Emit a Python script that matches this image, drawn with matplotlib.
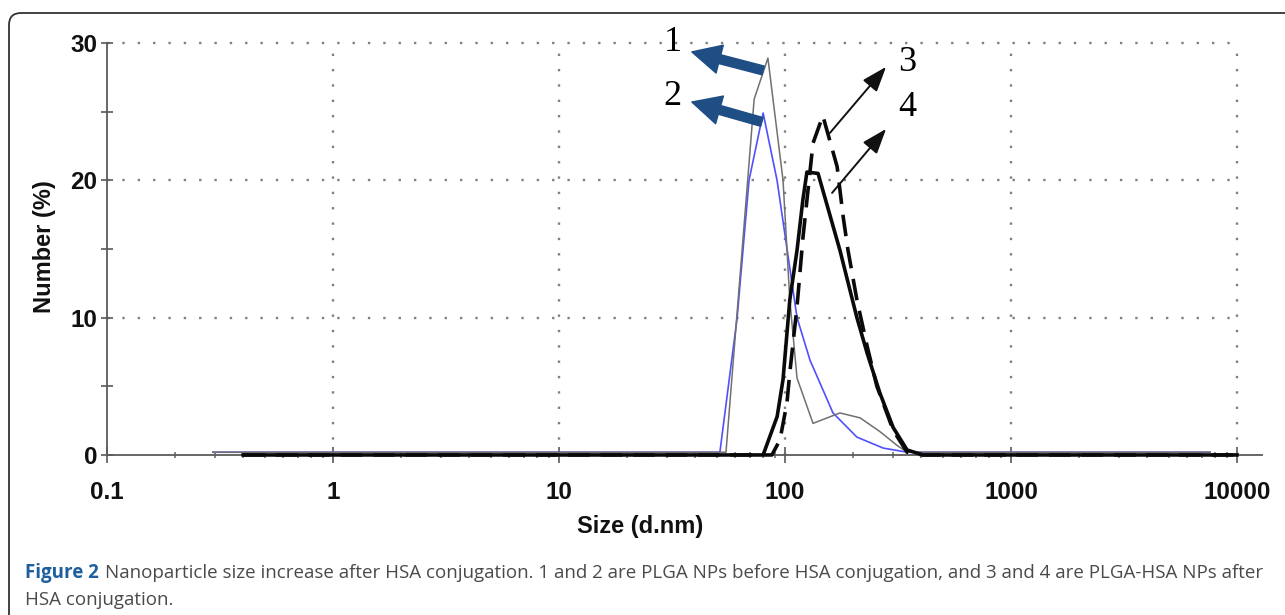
import matplotlib
matplotlib.use('Agg')
import matplotlib.pyplot as plt
from matplotlib.patches import FancyBboxPatch
from matplotlib.transforms import IdentityTransform
from matplotlib.ticker import FixedLocator, NullFormatter

# size (d.nm) vs number (%)
size1 = [0.294, 54.8, 73, 84, 98, 105, 113, 133, 175, 215, 263, 313, 347, 7600]
num1 = [0.2, 0.2, 25.9, 28.9, 20, 11.3, 5.6, 2.3, 3.06, 2.7, 1.7, 0.7, 0.2, 0.2]

size2 = [0.294, 51.5, 61.4, 69.3, 80, 92.2, 113, 129, 163, 208, 272, 347, 7600]
num2 = [0.2, 0.2, 10, 20, 24.9, 20, 10, 6.9, 3.06, 1.3, 0.5, 0.2, 0.2]

size3 = [0.40, 87.5, 95, 102, 105, 113, 120, 133, 147, 170, 181, 190, 208, 231, 255, 301, 347, 408, 10000]
num3 = [0, 0, 1.1, 3.8, 6.0, 10.8, 15.8, 22.7, 24.7, 21.0, 17.3, 14.9, 11.3, 7.9, 5.0, 1.8, 0.2, 0, 0]

size4 = [0.40, 80, 92.3, 98, 105, 113, 120, 125, 140, 175, 208, 231, 263, 301, 347, 408, 10000]
num4 = [0, 0, 2.8, 5.5, 11.3, 14.9, 18.6, 20.6, 20.5, 14.9, 10.0, 7.4, 4.5, 2.0, 0.36, 0, 0]

xticks = [0.1, 1, 10, 100, 1000, 10000]
xticklabels = ['0.1', '1', '10', '100', '1000', '10000']
yticks = [0, 10, 20, 30]

# curve labels: (text, label pos, arrow tail, arrow tip)
blue_labels = [('1', (31.9, 30.0), (80, 28.0), (38.7, 29.35)),
               ('2', (31.6, 26.1), (79, 24.25), (38.7, 25.7))]
black_labels = [('3', (347, 28.55), (158, 23.45), (280, 28.26)),
                ('4', (347, 25.27), (161.5, 19.08), (280, 23.74))]

caption_bold = 'Figure 2'
caption_line1 = ('Nanoparticle size increase after HSA conjugation. 1 and 2 are PLGA NPs before '
                 'HSA conjugation, and 3 and 4 are PLGA-HSA NPs after')
caption_line2 = 'HSA conjugation.'

W, H = 1285, 615
fig = plt.figure(figsize=(W / 100, H / 100), dpi=100)
ax = fig.add_axes([0.0833, 0.2379, 0.8988, 0.7034])

ax.set_xscale('log')
ax.set_xlim(0.1, 12900)
ax.set_ylim(-1, 30.5)

# dotted grid, drawn only inside 0.1..10000 and 0..30
dot = (0, (1, 5.5))
for yv in [10, 20, 30]:
    ax.plot([0.1, 10000], [yv, yv], color='#808080', lw=1.7, ls=dot, zorder=1)
for xv in [1, 10, 100, 1000, 10000]:
    ax.plot([xv, xv], [0, 30], color='#808080', lw=1.7, ls=dot, zorder=1)

ax.plot(size2, num2, color='#5050ff', lw=1.2, zorder=3)
ax.plot(size1, num1, color='#707070', lw=1.1, zorder=3)
ax.plot(size4, num4, color='#0a0a0a', lw=2.6, zorder=4, solid_joinstyle='round')
ax.plot(size3, num3, color='#0a0a0a', lw=2.6, ls=(0, (6, 3)), zorder=4)

for txt, lp, tail, tip in blue_labels:
    ax.annotate('', xy=tip, xytext=tail,
                arrowprops=dict(arrowstyle='simple,head_length=1.15,head_width=1.15,tail_width=0.36',
                                mutation_scale=18, color='#1f4e85', shrinkA=0, shrinkB=0), zorder=5)
    ax.text(lp[0], lp[1], txt, fontsize=26, family='Liberation Serif', ha='center', va='center')
for txt, lp, tail, tip in black_labels:
    ax.annotate('', xy=tip, xytext=tail,
                arrowprops=dict(arrowstyle='-|>,head_length=1.1,head_width=0.4',
                                mutation_scale=14, color='#111111', lw=1.4, shrinkA=0, shrinkB=0), zorder=5)
    ax.text(lp[0], lp[1], txt, fontsize=26, family='Liberation Serif', ha='center', va='center')

for s in ['top', 'right']:
    ax.spines[s].set_visible(False)
ax.spines['left'].set_bounds(0, 30)
ax.spines['bottom'].set_position(('data', 0))
for s in ['left', 'bottom']:
    ax.spines[s].set_color('#5a5a5a')
    ax.spines[s].set_linewidth(1.3)

ax.xaxis.set_major_locator(FixedLocator(xticks))
ax.set_xticklabels(xticklabels)
ax.xaxis.set_minor_formatter(NullFormatter())
ax.set_yticks(yticks)
ax.set_yticks([5, 15, 25], minor=True)

ax.tick_params(axis='x', which='major', direction='inout', length=11, width=1.3, color='#666666', pad=13.5)
ax.tick_params(axis='x', which='minor', direction='inout', length=5, width=1.1, color='#666666')
ax.tick_params(axis='y', which='both', direction='inout', length=9, width=1.3, color='#666666', pad=2.7)
for lab in ax.get_xticklabels() + ax.get_yticklabels():
    lab.set_family('Liberation Sans')
    lab.set_fontweight('bold')
    lab.set_fontsize(17.5)
    lab.set_color('#111111')

fig.text(44 / W, 1 - 247 / H, 'Number (%)', rotation=90, ha='center', va='center',
         family='Liberation Sans', fontweight='bold', fontsize=17, color='#111111')
fig.text(640 / W, 1 - 526 / H, 'Size (d.nm)', ha='center', va='center',
         family='Liberation Sans', fontweight='bold', fontsize=17, color='#111111')

# frame round the figure
box = FancyBboxPatch((9, -30), 1310, H - 13 + 30, boxstyle='round,pad=0,rounding_size=12',
                     transform=IdentityTransform(), fill=False, ec='#333333', lw=1.3)
fig.add_artist(box)

# caption
renderer = fig.canvas.get_renderer()
t1 = fig.text(25 / W, 1 - 578 / H, caption_bold, family='Open Sans', fontweight='bold',
              fontsize=13.5, color='#1f5f9e', va='baseline')
bb = t1.get_window_extent(renderer)
fig.text((bb.x1 + 6) / W, 1 - 578 / H, caption_line1, family='Open Sans',
         fontsize=13.5, color='#4a4a4a', va='baseline')
fig.text(25 / W, 1 - 605 / H, caption_line2, family='Open Sans',
         fontsize=13.5, color='#4a4a4a', va='baseline')

fig.savefig('out.png', dpi=100)
